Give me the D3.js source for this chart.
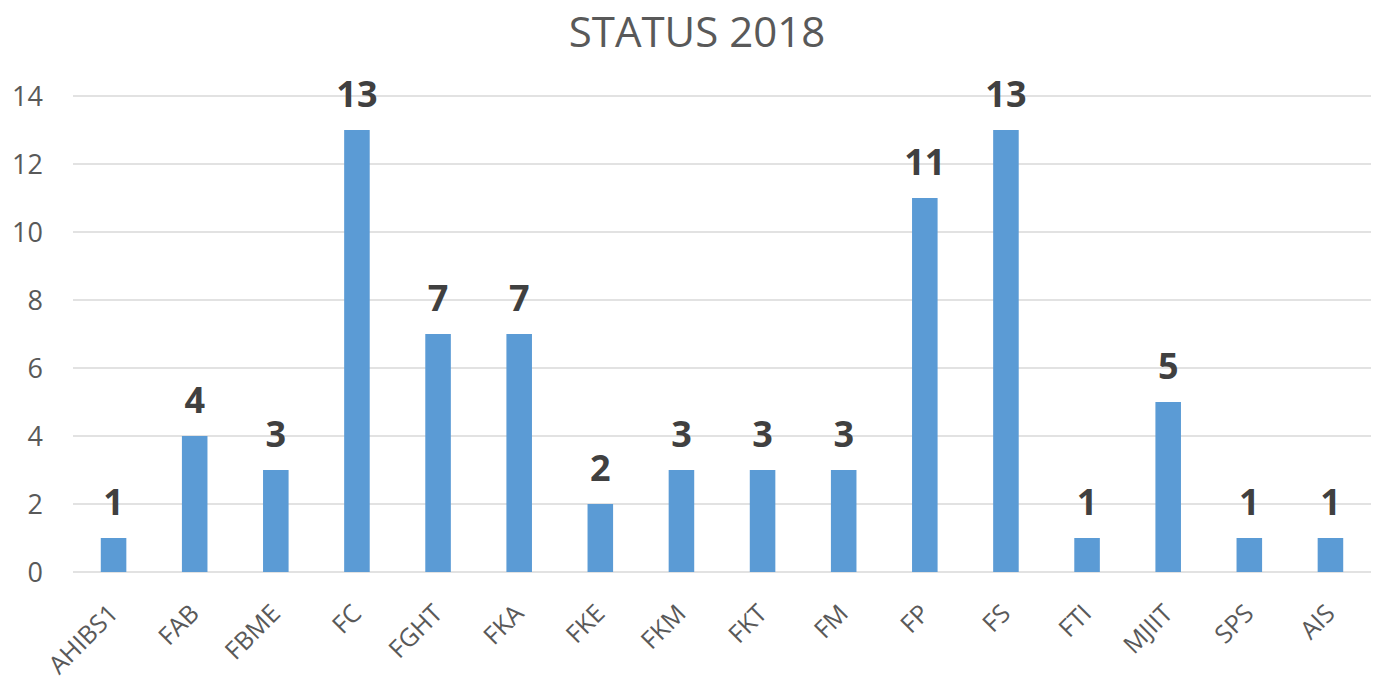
<!DOCTYPE html>
<html>
<head>
<meta charset="utf-8">
<script src="https://cdn.jsdelivr.net/npm/d3@7"></script>
<style>
  body { margin: 0; background: #fff; }
  text { font-family: "Open Sans", "Liberation Sans", sans-serif; }
</style>
</head>
<body>
<div id="chart"></div>
<script>
// chart data
var categories = ["AHIBS1", "FAB", "FBME", "FC", "FGHT", "FKA", "FKE", "FKM", "FKT", "FM", "FP", "FS", "FTI", "MJIIT", "SPS", "AIS"]
var values = [1, 4, 3, 13, 7, 7, 2, 3, 3, 3, 11, 13, 1, 5, 1, 1]
var yTicks = [0, 2, 4, 6, 8, 10, 12, 14]
var title = "STATUS 2018"

var width = 1383
var height = 684
var margin = { top: 96, right: 12, bottom: 112, left: 73 }

var svg = d3.select("#chart")
    .append("svg")
    .attr("width", width)
    .attr("height", height)

var x = d3.scaleBand()
    .domain(categories)
    .range([margin.left, width - margin.right])
    .paddingInner(0.685)
    .paddingOuter(0.3425)

var y = d3.scaleLinear()
    .domain([0, 14])
    .range([height - margin.bottom, margin.top])

// gridlines
svg.append("g")
    .selectAll("line")
    .data(yTicks)
    .enter()
    .append("line")
    .attr("x1", margin.left)
    .attr("x2", width - margin.right)
    .attr("y1", function (d) { return y(d) })
    .attr("y2", function (d) { return y(d) })
    .style("stroke", "#d9d9d9")
    .style("stroke-width", 1.5)

// y axis labels
svg.append("g")
    .selectAll("text")
    .data(yTicks)
    .enter()
    .append("text")
    .attr("x", 43)
    .attr("y", function (d) { return y(d) })
    .attr("text-anchor", "end")
    .attr("dy", "0.36em")
    .style("font-size", "27px")
    .style("fill", "#595959")
    .text(function (d) { return d })

// bars
svg.append("g")
    .selectAll("rect")
    .data(values)
    .enter()
    .append("rect")
    .attr("x", function (d, i) { return x(categories[i]) })
    .attr("width", x.bandwidth())
    .attr("y", function (d) { return y(d) })
    .attr("height", function (d) { return y(0) - y(d) })
    .style("fill", "#5b9bd5")

// value labels
svg.append("g")
    .selectAll("text")
    .data(values)
    .enter()
    .append("text")
    .attr("x", function (d, i) { return x(categories[i]) + x.bandwidth() / 2 })
    .attr("y", function (d) { return y(d) - 23 })
    .attr("text-anchor", "middle")
    .style("font-size", "36px")
    .style("font-weight", "bold")
    .style("fill", "#404040")
    .text(function (d) { return d })

// x labels, rotated
svg.append("g")
    .selectAll("text")
    .data(categories)
    .enter()
    .append("text")
    .attr("transform", function (d) {
        var cx = x(d) + x.bandwidth() / 2 + 6
        return "translate(" + cx + "," + (y(0) + 43) + ") rotate(-45)"
    })
    .attr("text-anchor", "end")
    .style("font-size", "25px")
    .style("fill", "#595959")
    .text(function (d) { return d })

// title
svg.append("text")
    .attr("x", 697)
    .attr("y", 47)
    .attr("text-anchor", "middle")
    .style("font-size", "42px")
    .style("fill", "#595959")
    .text(title)
</script>
</body>
</html>
